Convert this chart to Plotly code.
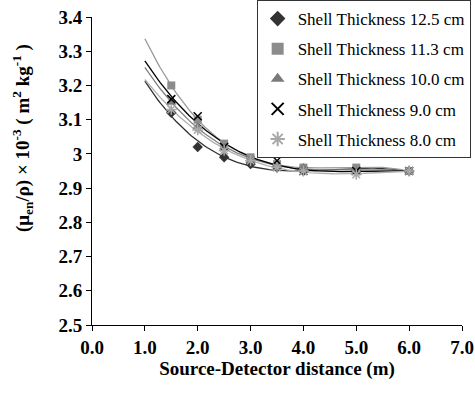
import numpy as np
import plotly.graph_objects as go

distance = [1.5, 2.0, 2.5, 3.0, 3.5, 4.0, 5.0, 6.0]
series_names = ["Shell Thickness 12.5 cm", "Shell Thickness 11.3 cm", "Shell Thickness 10.0 cm",
                "Shell Thickness 9.0 cm", "Shell Thickness 8.0 cm"]
s125 = [3.12, 3.02, 2.99, 2.97, 2.96, 2.95, 2.95, 2.95]
s113 = [3.20, 3.10, 3.03, 2.99, 2.97, 2.96, 2.96, 2.95]
s100 = [3.15, 3.08, 3.02, 2.98, 2.97, 2.96, 2.95, 2.95]
s090 = [3.16, 3.11, 3.02, 2.98, 2.98, 2.95, 2.95, 2.95]
s080 = [3.13, 3.07, 3.01, 2.98, 2.96, 2.95, 2.94, 2.95]
values = [s125, s113, s100, s090, s080]

x_ticks = [0, 1, 2, 3, 4, 5, 6, 7]
x_ticktext = ["0.0", "1.0", "2.0", "3.0", "4.0", "5.0", "6.0", "7.0"]
y_ticks = [2.5, 2.6, 2.7, 2.8, 2.9, 3.0, 3.1, 3.2, 3.3, 3.4]
y_ticktext = ["2.5", "2.6", "2.7", "2.8", "2.9", "3", "3.1", "3.2", "3.3", "3.4"]
y_title = "<b>(μ<sub>en</sub>/ρ) × 10<sup>-3</sup> ( m<sup>2</sup> kg<sup>-1</sup> )</b>"
x_title = "<b>Source-Detector distance (m)</b>"

symbols = ["diamond", "square", "triangle-up", "x-thin-open", "asterisk-open"]
marker_sizes = [8, 8, 9, 8, 9]
marker_colors = ["#333333", "#8c8c8c", "#7a7a7a", "#000000", "#a8a8a8"]
line_colors = ["#303030", "#9a9a9a", "#808080", "#000000", "#b0b0b0"]

fig = go.Figure()

# trend lines (polynomial fits of each series, from 1.0 to 6.0 m)
xf = np.linspace(1.0, 6.0, 120)
for vals, lc in zip(values, line_colors):
    coef = np.polyfit(distance, vals, 3)
    fig.add_trace(go.Scatter(x=xf, y=np.polyval(coef, xf), mode="lines",
                             line=dict(color=lc, width=1.3), showlegend=False,
                             hoverinfo="skip"))

for i, (name, vals, sym, ms, mc) in enumerate(zip(series_names, values, symbols, marker_sizes, marker_colors)):
    if sym.endswith("open"):
        marker = dict(symbol=sym, size=ms, color=mc, line=dict(color=mc, width=1.5))
    else:
        marker = dict(symbol=sym, size=ms, color=mc, line=dict(width=0))
    fig.add_trace(go.Scatter(x=distance, y=vals, mode="markers", name=name,
                             marker=marker, legendgroup=f"g{i}"))

font_serif = "Liberation Serif"
fig.update_layout(
    width=475, height=398,
    margin=dict(l=92, r=13, t=17, b=73, autoexpand=False),
    paper_bgcolor="white", plot_bgcolor="white",
    font=dict(family=font_serif, color="black"),
    legend=dict(x=0.445, y=1.055, xanchor="left", yanchor="top",
                bordercolor="#333333", borderwidth=1, bgcolor="white",
                font=dict(size=17, family=font_serif, color="black"), tracegroupgap=5,
                itemwidth=30, itemsizing="constant"),
    xaxis=dict(range=[0, 7], tickvals=x_ticks, ticktext=x_ticktext,
               showline=True, linecolor="black", linewidth=1, ticks="outside",
               ticklen=5, tickcolor="black", showgrid=False, zeroline=False,
               tickfont=dict(size=19, family=font_serif, weight="bold"),
               title=dict(text=x_title,
                          font=dict(size=19, family=font_serif), standoff=4)),
    yaxis=dict(range=[2.5, 3.4], tickvals=y_ticks, ticktext=y_ticktext,
               showline=True, linecolor="black", linewidth=1, ticks="outside",
               ticklen=5, tickcolor="black", showgrid=False, zeroline=False,
               tickfont=dict(size=19, family=font_serif, weight="bold")),
    annotations=[dict(text=y_title, textangle=-90, xref="paper", yref="paper",
                      x=(22 - 92) / 370, y=(325 - 138) / 308, xanchor="center", yanchor="middle",
                      showarrow=False, font=dict(size=19, family=font_serif, color="black"))],
)

fig.write_html("out.html")
